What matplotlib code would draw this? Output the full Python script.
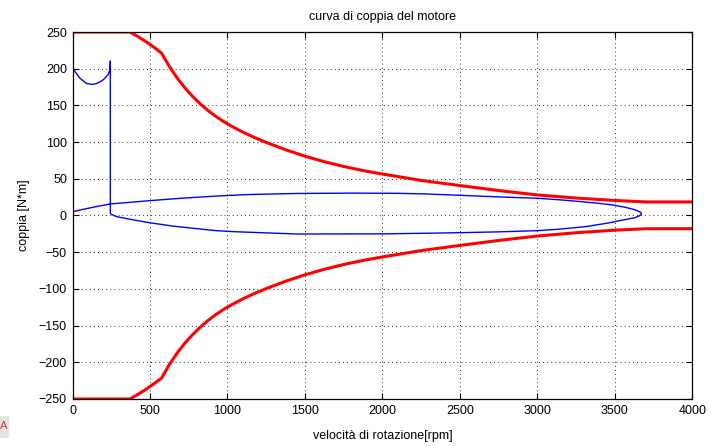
import matplotlib
matplotlib.use("Agg")
import matplotlib.pyplot as plt
from matplotlib.patches import Rectangle

plt.rcParams['font.family'] = ['Liberation Sans', 'DejaVu Sans']

# Torque limit envelope (upper and lower), speed in rpm, torque in N*m
limit_speed = [0, 370, 420, 480, 540, 575, 625, 675, 725, 775, 825, 875, 925,
               975, 1025, 1100, 1175, 1250, 1375, 1500, 1625, 1750, 1875,
               2000, 2250, 2500, 2750, 3000, 3250, 3500, 3600, 3700, 4000]
limit_upper = [250, 250, 244, 236, 227, 221, 203, 187.5, 174, 162.3, 152,
               143, 135, 128, 121.8, 113.5, 106.2, 99.6, 89.6, 80.8, 73.3,
               66.8, 61.2, 56.5, 47.8, 40.8, 34, 28, 23.8, 20.5, 19.5, 18.5,
               18.5]
limit_lower = [-250, -250, -244, -236, -227, -221.5, -203, -187.5, -174,
               -162.3, -152, -143, -135, -128, -121.8, -113.5, -106.2, -99.6,
               -89.6, -80.8, -73.3, -66.8, -61.2, -56.5, -47.8, -40.8, -34,
               -28, -23.5, -20, -19, -18, -18]

# Operating trajectory of the motor (speed, torque)
traj_speed = [0, 60, 150, 244, 496, 700, 930, 1124, 1446, 1800, 2100, 2263,
              2500, 2790, 3000, 3150, 3274, 3400, 3489, 3560, 3610, 3645,
              3665, 3672,
              3668, 3655, 3630, 3580, 3532, 3450, 3317, 3150, 2995, 2750,
              2500, 2242, 2000, 1446, 1037, 930, 823, 650, 496, 380, 285,
              255, 244,
              244, 242, 230, 199, 177, 150, 124, 90, 48, 20, 3]
traj_torque = [5, 8, 12, 15.7, 20.2, 23.5, 26.5, 28.5, 30, 30.5, 30.2, 29.5,
               27.5, 25, 23.5, 21.3, 19, 16.5, 14.3, 11.5, 9, 6.5,
               4.5, 2.5,
               1, -0.8, -3, -5, -7, -10.5, -15, -18.5, -20.7, -22.3,
               -23.4, -24.3, -25, -25.2, -22, -20.7, -18.4, -14.5, -9.8,
               -5.5, -1.6, 1.2, 3,
               210.5, 199, 192, 185, 182, 179.5, 178.6, 180, 187, 195, 200.5]

x_ticks = [0, 500, 1000, 1500, 2000, 2500, 3000, 3500, 4000]
y_ticks = [-250, -200, -150, -100, -50, 0, 50, 100, 150, 200, 250]

fig = plt.figure(figsize=(7.11, 4.47), dpi=100)
ax = fig.add_axes([0.102, 0.1074, 0.8717, 0.821])

ax.plot(limit_speed, limit_upper, color=(1, 0, 0), lw=2.2,
        solid_joinstyle='round')
ax.plot(limit_speed, limit_lower, color=(1, 0, 0), lw=2.2,
        solid_joinstyle='round')
ax.plot(traj_speed, traj_torque, color=(0, 0, 1), lw=1.0)

ax.set_xlim(0, 4000)
ax.set_ylim(-250, 250)
ax.set_xticks(x_ticks)
ax.set_yticks(y_ticks)
ax.tick_params(direction='in', length=4.5, width=0.8, top=True, right=True,
               labelsize=9, colors='black', pad=4)
ax.grid(True, color='#303030', linestyle=(0, (1, 3.2)), linewidth=0.7)
for s in ax.spines.values():
    s.set_linewidth(0.9)
    s.set_color('black')

ax.set_title('curva di coppia del motore', fontsize=9, pad=9)
ax.set_xlabel('velocità di rotazione[rpm]', fontsize=9, labelpad=10)
ax.set_ylabel('coppia [N*m]', fontsize=9, labelpad=6)

# small toolbar fragment at the lower-left edge
fig.patches.append(Rectangle((0, 0.02), 0.012, 0.05, transform=fig.transFigure,
                             facecolor='#e4e4e4', edgecolor='none'))
fig.text(0.0, 0.035, 'A', color='#d03030', fontsize=8, ha='left',
         va='bottom')

fig.savefig('out.png', dpi=100)
